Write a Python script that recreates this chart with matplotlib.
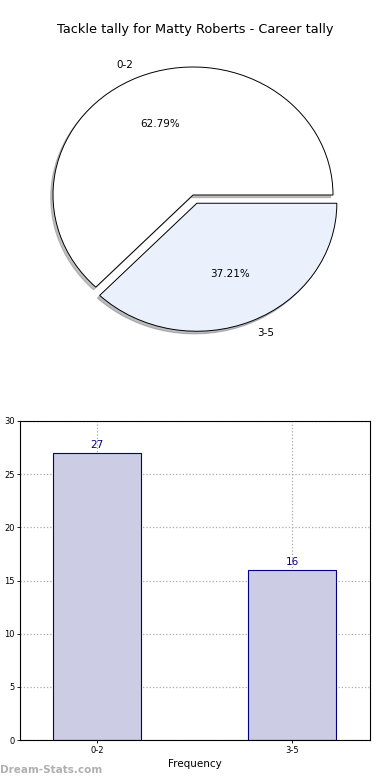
import matplotlib
matplotlib.use("Agg")
import matplotlib.pyplot as plt

# -----------------------------
# Data
# -----------------------------
categories = ["0-2", "3-5"]
games = [27, 16]
pie_colors = ["#ffffff", "#eaf0fc"]
bar_color = "#ccccE4"
edge_color = "#000080"

title = "Tackle tally for Matty Roberts - Career tally"

fig = plt.figure(figsize=(3.9, 7.8), dpi=100)

# -----------------------------
# Pie chart
# -----------------------------
ax1 = fig.add_axes([18 / 390, 1 - 355 / 780, 350 / 390, 320 / 780])
wedges, texts, autotexts = ax1.pie(
    games,
    labels=categories,
    colors=pie_colors,
    explode=[0, 0.07],
    autopct="%.2f%%",
    startangle=0,
    shadow={"ox": -0.012, "oy": -0.015, "shade": 0.5},
    wedgeprops={"edgecolor": "black", "linewidth": 0.7},
    textprops={"fontsize": 7.5},
)
ax1.set_aspect("auto")
ax1.set_xlim(-1.25, 1.25)
ax1.set_ylim(-1.25, 1.25)

fig.text(0.5, 1 - 30 / 780, title, ha="center", va="center", fontsize=9.3)

# -----------------------------
# Bar chart
# -----------------------------
ax2 = fig.add_axes([20 / 390, 40 / 780, 350 / 390, 319 / 780])
x = range(len(categories))
bars = ax2.bar(x, games, width=0.45, color=bar_color, edgecolor=edge_color,
               linewidth=0.8, zorder=2)
for xi, v in zip(x, games):
    ax2.text(xi, v + 0.3, str(v), ha="center", va="bottom", fontsize=7.5,
             color=edge_color)

ax2.set_xlim(-0.395, 1.4)
ax2.set_ylim(0, 30)
ax2.set_xticks(list(x))
ax2.set_xticklabels(categories)
ax2.set_yticks(range(0, 31, 5))
ax2.tick_params(labelsize=6, length=2, width=0.6, pad=2)
ax2.grid(True, linestyle=":", color="#aaaaaa", linewidth=0.9, zorder=0)
ax2.set_axisbelow(True)
ax2.set_xlabel("Frequency", fontsize=7.5, labelpad=3)
ax2.set_ylabel("Games with Tally", fontsize=7.5)
ax2.yaxis.set_label_coords(-0.066, 0.5)

fig.text(0.0, 1 - 770 / 780, "Dream-Stats.com", ha="left", va="center",
         fontsize=7.5, color="#b0b0b0", fontweight="bold")

fig.savefig("out.png", dpi=100)
